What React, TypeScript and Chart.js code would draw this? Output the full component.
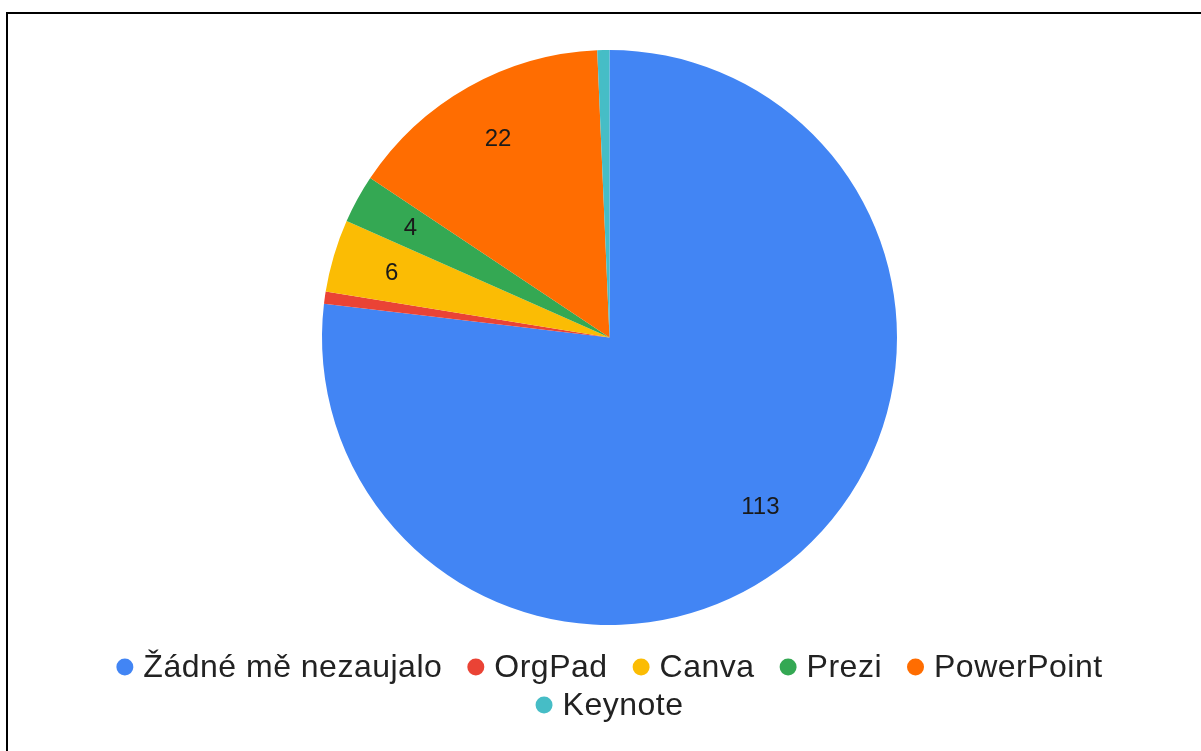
import React, { useEffect, useRef } from "react";
import { Chart, registerables } from "chart.js";

Chart.register(...registerables);

const categories = ["Žádné mě nezaujalo", "OrgPad", "Canva", "Prezi", "PowerPoint", "Keynote"];
const values = [113, 1, 6, 4, 22, 1];
const colors = ["#4285F4", "#EA4335", "#FBBC04", "#34A853", "#FF6D01", "#46BDC6"];

const FONT = "'Liberation Sans', Arial, sans-serif";

const labelPlugin = {
  id: "sliceLabels",
  afterDatasetsDraw(chart: any) {
    const ctx = chart.ctx;
    const meta = chart.getDatasetMeta(0);
    ctx.save();
    ctx.font = `24px ${FONT}`;
    ctx.fillStyle = "#1a1a1a";
    ctx.textAlign = "center";
    ctx.textBaseline = "middle";
    meta.data.forEach((arc: any, i: number) => {
      const v = values[i];
      if (v < 2) return;
      const { x, y, startAngle, endAngle, outerRadius } = arc.getProps(
        ["x", "y", "startAngle", "endAngle", "outerRadius"],
        true
      );
      const mid = (startAngle + endAngle) / 2;
      const r = outerRadius * 0.79;
      ctx.fillText(String(v), x + Math.cos(mid) * r, y + Math.sin(mid) * r);
    });
    ctx.restore();
  },
};

const legendPlugin = {
  id: "customLegend",
  afterDraw(chart: any) {
    const ctx = chart.ctx;
    const meta = chart.getDatasetMeta(0);
    const cx = meta.data[0].x;
    ctx.save();
    ctx.font = `32px ${FONT}`;
    try {
      (ctx as any).letterSpacing = "0.5px";
    } catch (e) {}
    ctx.textBaseline = "middle";
    ctx.textAlign = "left";
    const marker = 17;
    const gap = 10;
    const spacing = 25;
    const maxW = 1060;
    const items = categories.map((c, i) => ({
      text: c,
      color: colors[i],
      w: marker + gap + ctx.measureText(c).width,
    }));
    const rows: any[][] = [[]];
    let cur = 0;
    items.forEach((it) => {
      const add = (rows[rows.length - 1].length ? spacing : 0) + it.w;
      if (cur + add > maxW && rows[rows.length - 1].length) {
        rows.push([it]);
        cur = it.w;
      } else {
        rows[rows.length - 1].push(it);
        cur += add;
      }
    });
    const top = 653;
    const lh = 38;
    rows.forEach((row, ri) => {
      const total = row.reduce((s, it, k) => s + it.w + (k ? spacing : 0), 0);
      let x = cx - total / 2;
      const y = top + ri * lh;
      row.forEach((it) => {
        ctx.fillStyle = it.color;
        ctx.beginPath();
        ctx.arc(x + marker / 2, y, marker / 2, 0, Math.PI * 2);
        ctx.fill();
        ctx.fillStyle = "#222222";
        ctx.fillText(it.text, x + marker + gap, y + 1);
        x += it.w + spacing;
      });
    });
    ctx.restore();
  },
};

export default function App() {
  const ref = useRef<HTMLCanvasElement | null>(null);
  useEffect(() => {
    document.body.style.overflow = "hidden";
    const chart = new Chart(ref.current as HTMLCanvasElement, {
      type: "pie",
      data: {
        labels: categories,
        datasets: [
          {
            data: values,
            backgroundColor: colors,
            borderWidth: 0,
          },
        ],
      },
      options: {
        responsive: false,
        animation: false,
        layout: { padding: { top: 36, bottom: 126, left: 10, right: 0 } },
        plugins: {
          legend: { display: false },
          tooltip: { enabled: false },
        },
      },
      plugins: [labelPlugin, legendPlugin],
    });
    return () => chart.destroy();
  }, []);
  return (
    <div
      style={{
        position: "absolute",
        left: 6,
        top: 12,
        width: 1195,
        height: 739,
        borderLeft: "2px solid #000",
        borderTop: "2px solid #000",
        background: "#fff",
      }}
    >
      <canvas ref={ref} width={1193} height={737} style={{ display: "block" }} />
    </div>
  );
}
